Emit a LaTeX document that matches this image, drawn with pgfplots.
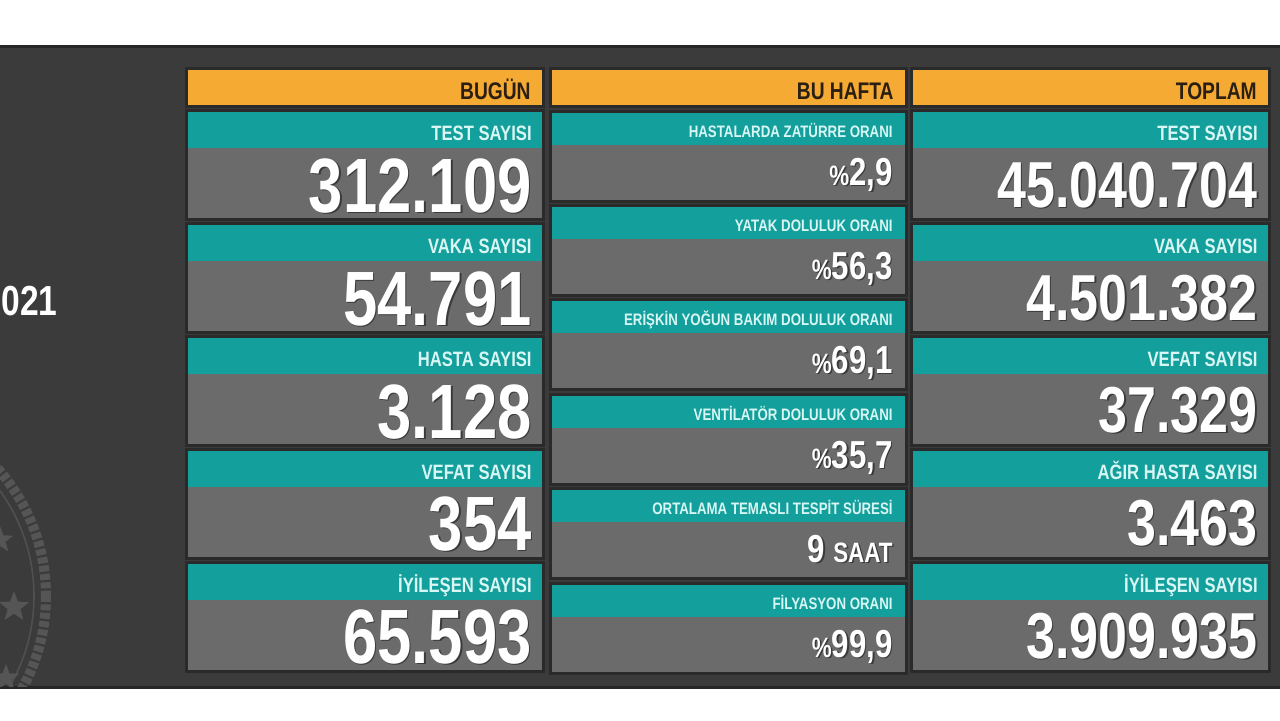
\documentclass[border=0pt]{standalone}
\usepackage{pgfplots}
\pgfplotsset{compat=1.18}
\usetikzlibrary{shapes.geometric}
\usepackage{fontspec}
\newfontfamily\cf{Liberation Sans}[FakeStretch=0.80]
\definecolor{panel}{HTML}{3B3B3B}
\definecolor{gapc}{HTML}{2A2A2A}
\definecolor{orangeb}{HTML}{F4AA33}
\definecolor{tealb}{HTML}{139F9C}
\definecolor{grayb}{HTML}{6B6B6B}
\definecolor{lbl}{HTML}{D8F6F3}
\definecolor{hdrtxt}{HTML}{2A1F12}
\definecolor{emb}{HTML}{555555}
% big tile: x1, x2, top, label, value, value font size (pt), baseline offset
\newcommand{\bigtile}[7]{%
  \fill[gapc] (axis cs:{#1-3},{#3-3}) rectangle (axis cs:{#2+3},{#3+109});
  \fill[tealb] (axis cs:#1,#3) rectangle (axis cs:#2,{#3+36});
  \fill[grayb] (axis cs:#1,{#3+36}) rectangle (axis cs:#2,{#3+106});
  \node[anchor=base east, inner sep=0, text=lbl, font=\cf\bfseries\fontsize{10.4}{10.4}\selectfont] at (axis cs:{#2-10},{#3+28}) {#4};
  \node[anchor=base east, inner sep=0, text=black, opacity=0.45, font=\cf\bfseries\fontsize{#6}{#6}\selectfont] at (axis cs:{#2-8.5},{#3+#7+1.5}) {#5};
  \node[anchor=base east, inner sep=0, text=white, font=\cf\bfseries\fontsize{#6}{#6}\selectfont] at (axis cs:{#2-10},{#3+#7}) {#5};
}
% small tile (middle column): top, label, value
\newcommand{\smalltile}[3]{%
  \fill[gapc] (axis cs:549,{#1-3}) rectangle (axis cs:908,{#1+90});
  \fill[tealb] (axis cs:552,#1) rectangle (axis cs:905,{#1+32});
  \fill[grayb] (axis cs:552,{#1+32}) rectangle (axis cs:905,{#1+87});
  \node[anchor=base east, inner sep=0, text=lbl, font=\cf\bfseries\fontsize{8.3}{8.3}\selectfont] at (axis cs:893,{#1+24}) {#2};
  \node[anchor=base east, inner sep=0, text=black, opacity=0.45, font=\cf\bfseries\fontsize{19.5}{19.5}\selectfont] at (axis cs:894.5,{#1+73.5}) {#3};
  \node[anchor=base east, inner sep=0, text=white, font=\cf\bfseries\fontsize{19.5}{19.5}\selectfont] at (axis cs:893,{#1+72}) {#3};
}
\newcommand{\pct}{{\fontsize{14}{14}\selectfont\%}}
\newcommand{\hdr}[3]{%
  \fill[gapc] (axis cs:{#1-3},67) rectangle (axis cs:{#2+3},108);
  \fill[orangeb] (axis cs:#1,70) rectangle (axis cs:#2,105);
  \node[anchor=base east, inner sep=0, text=hdrtxt, font=\cf\bfseries\fontsize{12}{12}\selectfont] at (axis cs:{#2-11},99) {#3};
}
\begin{document}
\begin{tikzpicture}
\begin{axis}[scale only axis, width=640pt, height=360pt,
  xmin=0, xmax=1280, ymin=0, ymax=720, y dir=reverse,
  hide axis, clip=false]
\addplot[draw=none] coordinates {(0,0) (1280,720)};
% background
\fill[white] (axis cs:0,0) rectangle (axis cs:1280,720);
\fill[black!85] (axis cs:0,45) rectangle (axis cs:1280,689);
\fill[panel] (axis cs:0,48) rectangle (axis cs:1280,686);
% emblem (faded), kept inside the panel
\begin{scope}
\clip (axis cs:0,48) rectangle (axis cs:180,686);
\draw[emb, line width=5pt, dash pattern=on 3pt off 1.2pt] (axis cs:-146,596) circle[radius=192];
\draw[emb!80!panel, line width=0.8pt] (axis cs:-146,596) circle[radius=180];
\node[star, star points=5, star point ratio=2.4, fill=emb, inner sep=0, minimum size=16pt] at (axis cs:14,607) {};
\node[star, star points=5, star point ratio=2.4, fill=emb, inner sep=0, minimum size=14pt] at (axis cs:0,540) {};
\node[star, star points=5, star point ratio=2.4, fill=emb, inner sep=0, minimum size=14pt] at (axis cs:6,678) {};
\end{scope}
% date fragment
\node[anchor=base east, inner sep=0, text=white, font=\cf\bfseries\fontsize{21}{21}\selectfont] at (axis cs:58,315) {2021};
% headers
\hdr{188}{542}{BUGÜN}
\hdr{552}{905}{BU HAFTA}
\hdr{913}{1268}{TOPLAM}
% column 1
\bigtile{188}{542}{112}{TEST SAYISI}{312.109}{38.5}{100}
\bigtile{188}{542}{225}{VAKA SAYISI}{54.791}{38.5}{100}
\bigtile{188}{542}{338}{HASTA SAYISI}{3.128}{38.5}{100}
\bigtile{188}{542}{451}{VEFAT SAYISI}{354}{38.5}{99}
\bigtile{188}{542}{564}{İYİLEŞEN SAYISI}{65.593}{38.5}{99}
% column 2
\smalltile{113}{HASTALARDA ZATÜRRE ORANI}{\pct 2,9}
\smalltile{207}{YATAK DOLULUK ORANI}{\pct 56,3}
\smalltile{301}{ERİŞKİN YOĞUN BAKIM DOLULUK ORANI}{\pct 69,1}
\smalltile{396}{VENTİLATÖR DOLULUK ORANI}{\pct 35,7}
\smalltile{490}{ORTALAMA TEMASLI TESPİT SÜRESİ}{9\hspace{4pt}{\fontsize{14}{14}\selectfont SAAT}}
\smalltile{585}{FİLYASYON ORANI}{\pct 99,9}
% column 3
\bigtile{913}{1268}{112}{TEST SAYISI}{45.040.704}{32.5}{95}
\bigtile{913}{1268}{225}{VAKA SAYISI}{4.501.382}{32.5}{95}
\bigtile{913}{1268}{338}{VEFAT SAYISI}{37.329}{32.5}{94}
\bigtile{913}{1268}{451}{AĞIR HASTA SAYISI}{3.463}{32.5}{94}
\bigtile{913}{1268}{564}{İYİLEŞEN SAYISI}{3.909.935}{32.5}{94}
\end{axis}
\pgfresetboundingbox
\useasboundingbox (current axis.south west) rectangle (current axis.north east);
\end{tikzpicture}
\end{document}
